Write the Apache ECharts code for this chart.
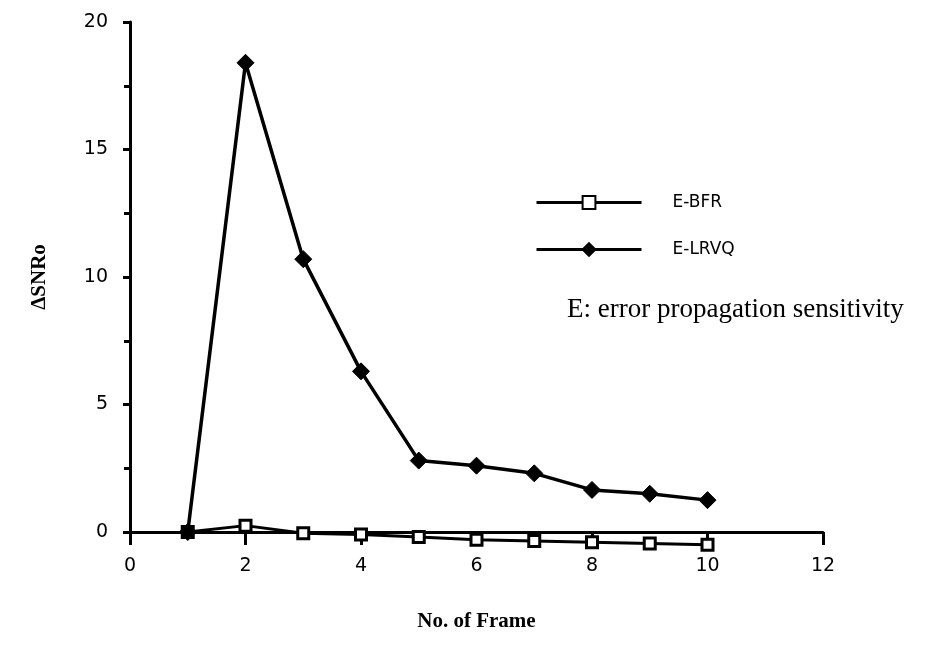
<!DOCTYPE html>
<html>
<head>
<meta charset="utf-8">
<script src="https://cdn.jsdelivr.net/npm/echarts@6/dist/echarts.min.js"></script>
<style>
  html, body { margin: 0; padding: 0; background: #fff; }
  #chart { width: 934px; height: 658px; }
</style>
</head>
<body>
<div id="chart"></div>
<script>
// Frame index along the horizontal axis
const frames = [1, 2, 3, 4, 5, 6, 7, 8, 9, 10];
// Error propagation sensitivity (ΔSNRo) per frame
const bfrValues = [0, 0.25, -0.05, -0.1, -0.2, -0.3, -0.35, -0.4, -0.45, -0.5];
const lrvqValues = [0, 18.4, 10.7, 6.3, 2.8, 2.6, 2.3, 1.65, 1.5, 1.25];
const seriesNames = ['E-BFR', 'E-LRVQ'];
const xTicks = [0, 2, 4, 6, 8, 10, 12];
const yTicks = [0, 5, 10, 15, 20];

const pairs = (xs, ys) => xs.map((x, i) => [x, ys[i]]);
const tickFont = 'DejaVu Sans';

const chart = echarts.init(document.getElementById('chart'), null, { renderer: 'canvas' });
chart.setOption({
  backgroundColor: '#ffffff',
  animation: false,
  grid: { left: 130, right: 111, top: 22, bottom: 126 },
  legend: {
    orient: 'vertical',
    left: 530,
    top: 189,
    itemWidth: 105,
    itemHeight: 16,
    itemGap: 30,
    lineStyle: { width: 3, color: '#000' },
    textStyle: { fontFamily: tickFont, fontSize: 17, color: '#000', padding: [0, 0, 0, 26] },
    data: seriesNames
  },
  xAxis: {
    type: 'value',
    min: xTicks[0],
    max: xTicks[xTicks.length - 1],
    interval: 2,
    axisLine: { onZero: true, lineStyle: { color: '#000', width: 3 } },
    axisTick: { show: true, inside: false, length: 13, lineStyle: { color: '#000', width: 3 } },
    axisLabel: { color: '#000', fontFamily: tickFont, fontSize: 19, margin: 25,
      formatter: v => xTicks.includes(v) ? String(v) : '' },
    splitLine: { show: false },
    name: 'No. of Frame',
    nameLocation: 'middle',
    nameGap: 79,
    nameTextStyle: { fontFamily: 'Liberation Serif', fontWeight: 'bold', fontSize: 21, color: '#000' }
  },
  yAxis: {
    type: 'value',
    min: yTicks[0],
    max: yTicks[yTicks.length - 1],
    interval: 5,
    axisLine: { show: true, lineStyle: { color: '#000', width: 3 } },
    axisTick: { show: true, length: 7, lineStyle: { color: '#000', width: 3 } },
    minorTick: { show: true, splitNumber: 2, length: 6, lineStyle: { color: '#000', width: 3 } },
    axisLabel: { color: '#000', fontFamily: tickFont, fontSize: 19, margin: 22,
      formatter: v => yTicks.includes(v) ? String(v) : '' },
    splitLine: { show: false },
    name: 'ΔSNRo',
    nameLocation: 'middle',
    nameGap: 80,
    nameRotate: 90,
    nameTextStyle: { fontFamily: 'Liberation Serif', fontWeight: 'bold', fontSize: 21, color: '#000' }
  },
  series: [
    {
      name: seriesNames[0],
      type: 'line',
      clip: false,
      z: 3,
      data: pairs(frames, bfrValues),
      symbol: 'rect',
      symbolSize: 11,
      lineStyle: { color: '#000', width: 3 },
      itemStyle: { color: '#fff', borderColor: '#000', borderWidth: 3 }
    },
    {
      name: seriesNames[1],
      type: 'line',
      clip: false,
      z: 4,
      data: pairs(frames, lrvqValues),
      symbol: 'diamond',
      symbolSize: 17,
      lineStyle: { color: '#000', width: 3.5 },
      itemStyle: { color: '#000', borderColor: '#000', borderWidth: 1 }
    }
  ],
  graphic: [
    {
      type: 'text',
      left: 567,
      top: 296,
      style: {
        text: 'E: error propagation sensitivity',
        fontFamily: 'Liberation Serif',
        fontSize: 27,
        fill: '#000'
      }
    }
  ]
});
</script>
</body>
</html>
